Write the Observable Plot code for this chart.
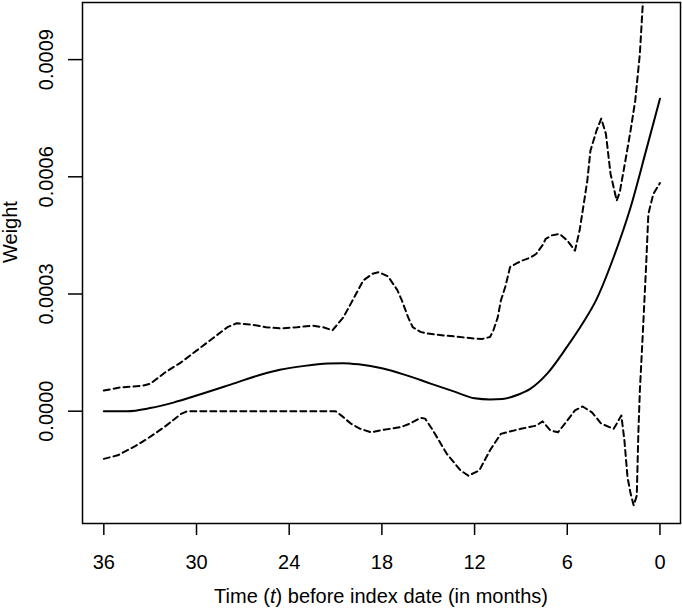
<!DOCTYPE html>
<html><head><meta charset="utf-8">
<script src="https://cdn.jsdelivr.net/npm/d3@7"></script>
<script src="https://cdn.jsdelivr.net/npm/@observablehq/plot@0.6"></script>
<style>
body{margin:0;background:#fff;}
#wrap{width:682px;height:608px;position:relative;font-family:"Liberation Sans",Arial,sans-serif;color:#000;}
#xlabel{position:absolute;left:82px;width:598px;top:578px;height:30px;line-height:30px;padding-top:3px;text-align:center;font-size:20px;}
</style></head><body>
<div id="wrap"><div id="chart"></div><div id="xlabel">Time (<i>t</i>) before index date (in months)</div></div>
<script>
// Estimate (solid line)
const centerT = [36, 34.5, 33, 31.5, 30, 27.8, 25.8, 24.6, 23, 21.5, 20.5, 19.5, 18, 16.5, 14.8, 13.3, 12, 11, 10.2, 9.2, 8.4, 7.3, 6.1, 5.0, 4.1, 3.0, 1.9, 0.9, 0];
const centerW = [0, 0, 0.000008, 0.000022, 0.00004, 0.000068, 0.000094, 0.000106, 0.000116, 0.000122, 0.000123, 0.00012, 0.00011, 0.000093, 0.00007, 0.00005, 0.000033, 0.00003, 0.000031, 0.000042, 0.000057, 0.000096, 0.00016, 0.000225, 0.000287, 0.000394, 0.000522, 0.000667, 0.0008];
// Upper band (dashed)
const upperT = [36, 34.9, 33.5, 33.0, 32, 31, 30, 28.9, 28, 27.4, 26.5, 25.5, 24.6, 23.5, 22.5, 21.8, 21.2, 20.5, 20.0, 19.2, 18.6, 18.2, 17.6, 17.0, 16.7, 16.3, 16.0, 15.5, 15.1, 14, 13.2, 12, 11.5, 11.0, 10.8, 10.5, 10.3, 10.0, 9.7, 9.2, 8.9, 8.4, 8.0, 7.6, 7.4, 7.0, 6.5, 6.0, 5.5, 5.2, 4.9, 4.7, 4.5, 4.1, 3.8, 3.5, 3.2, 2.8, 2.6, 2.2, 1.9, 1.6, 1.3, 1.1, 0.9, 0.5, 0];
const upperW = [0.000053, 0.000061, 0.000065, 0.00007, 0.0001, 0.000125, 0.000155, 0.000188, 0.000215, 0.000225, 0.000222, 0.000215, 0.000212, 0.000215, 0.000219, 0.000215, 0.000207, 0.00024, 0.000276, 0.000335, 0.000352, 0.000356, 0.000345, 0.00031, 0.000283, 0.00024, 0.000215, 0.000203, 0.000199, 0.000194, 0.000191, 0.000186, 0.000185, 0.00019, 0.000205, 0.00024, 0.000283, 0.00032, 0.000369, 0.00038, 0.000386, 0.000393, 0.000403, 0.000425, 0.000441, 0.00045, 0.000454, 0.000437, 0.000411, 0.000463, 0.000539, 0.000591, 0.000667, 0.000719, 0.000749, 0.00071, 0.000608, 0.000539, 0.000561, 0.00065, 0.000719, 0.000795, 0.000915, 0.00105, 0.0012, 0.0014, 0.0016];
// Lower band (dashed)
const lowerT = [36, 35.1, 34, 33.2, 32.1, 31.0, 30.6, 21.0, 20.6, 20.0, 19.4, 18.7, 18.1, 16.8, 16.2, 15.5, 15.2, 14.7, 13.8, 12.9, 12.4, 11.7, 11.0, 10.3, 9.0, 8.0, 7.6, 7.1, 6.6, 6.0, 5.5, 5.0, 4.4, 3.8, 3.0, 2.8, 2.5, 2.3, 2.1, 1.9, 1.7, 1.5, 1.4, 1.3, 1.1, 0.9, 0.75, 0.43, 0];
const lowerW = [-0.000122, -0.000113, -0.00009, -0.000071, -0.000041, -0.000007, 0, 0, -0.000012, -0.000032, -0.000045, -0.000054, -0.000049, -0.000041, -0.000032, -0.000017, -0.000019, -0.000049, -0.000109, -0.000152, -0.000165, -0.000152, -0.0001, -0.000058, -0.000045, -0.000037, -0.000026, -0.000049, -0.000054, -0.000024, 0.000002, 0.000012, -0.000003, -0.000032, -0.000045, -0.000032, -0.000011, -0.000075, -0.000169, -0.000211, -0.000241, -0.000216, -0.000058, 0.000053, 0.000207, 0.000369, 0.000505, 0.000556, 0.000584];

const xTicks = [36, 30, 24, 18, 12, 6, 0];
const yTicks = [0, 0.0003, 0.0006, 0.0009];
const yLabel = "Weight";

const rows = (ts, ws) => ts.map((t, i) => ({t, w: ws[i]}));
const centerRows = rows(centerT, centerW);
const upperRows = rows(upperT, upperW);
const lowerRows = rows(lowerT, lowerW);

const chart = Plot.plot({
  width: 682, height: 578,
  marginLeft: 82, marginRight: 2, marginTop: 2, marginBottom: 55,
  style: {fontFamily: '"Liberation Sans", Arial, sans-serif', fontSize: "20px", color: "black", background: "white"},
  x: {domain: [37.38, -1.33]},
  y: {domain: [-0.0002875, 0.0010462]},
  marks: [
    Plot.line(upperRows, {x: "t", y: "w", stroke: "black", strokeWidth: 2, strokeDasharray: "6,4", clip: true}),
    Plot.line(lowerRows, {x: "t", y: "w", stroke: "black", strokeWidth: 2, strokeDasharray: "6,4", clip: true}),
    Plot.line(centerRows, {x: "t", y: "w", stroke: "black", strokeWidth: 2, curve: "monotone-x", clip: true}),
    Plot.frame({stroke: "black", strokeWidth: 1.5}),
    Plot.axisX({ticks: xTicks, tickSize: 12, tickPadding: 19, label: null, strokeWidth: 1.5, tickFormat: d => String(d)}),
    Plot.axisY({ticks: yTicks, tickSize: 14, tickPadding: 16, tickRotate: -90, tickFormat: d3.format(".4f"), label: null, strokeWidth: 1.5}),
    Plot.text([yLabel], {text: d => d, frameAnchor: "left", rotate: -90, dx: -66, lineAnchor: "bottom", fontSize: 20})
  ]
});
document.getElementById("chart").appendChild(chart);
</script>
</body></html>
